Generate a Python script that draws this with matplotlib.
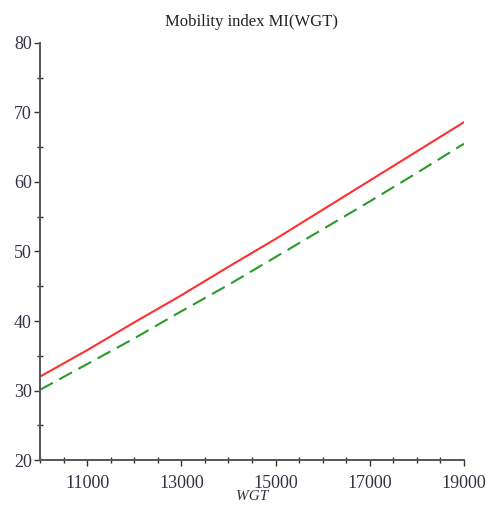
import matplotlib
matplotlib.use("Agg")
import matplotlib.pyplot as plt
from matplotlib.ticker import MultipleLocator, FixedLocator

# values
wgt = [10000, 11000, 12000, 13000, 14000, 15000, 16000, 17000, 18000, 19000]
mi_red = [32.0, 35.8, 39.8, 43.7, 47.8, 51.8, 56.0, 60.2, 64.4, 68.6]
mi_green = [30.1, 33.8, 37.5, 41.4, 45.2, 49.2, 53.2, 57.2, 61.3, 65.5]
xticks_lab = [11000, 13000, 15000, 17000, 19000]
yticks_lab = [20, 30, 40, 50, 60, 70, 80]

plt.rcParams["font.family"] = ["Liberation Serif", "DejaVu Serif"]

fig = plt.figure(figsize=(4.9, 5.05), dpi=100)
ax = fig.add_axes([0.0816, 0.089, 0.8653, 0.826])

ax.plot(wgt, mi_red, color="#ff3030", lw=1.5)
ax.plot(wgt, mi_green, color="#2a9a2a", lw=1.5, dashes=(7, 3.5))

ax.set_xlim(10000, 19000)
ax.set_ylim(20, 80)
ax.xaxis.set_major_locator(FixedLocator(xticks_lab))
ax.xaxis.set_minor_locator(MultipleLocator(500))
ax.yaxis.set_major_locator(FixedLocator(yticks_lab))
ax.yaxis.set_minor_locator(MultipleLocator(5))

for s in ["top", "right"]:
    ax.spines[s].set_visible(False)
for s in ["left", "bottom"]:
    ax.spines[s].set_color("#555555")
    ax.spines[s].set_linewidth(1.4)

ax.tick_params(which="major", direction="out", length=4, width=1, color="#333333",
               labelsize=13, labelcolor="#333344", pad=2)
ax.tick_params(axis="x", which="major", pad=6.5)
ax.tick_params(which="minor", direction="inout", length=4, width=1, color="#333333")

ax.set_title("Mobility index MI(WGT)", fontsize=12, color="#222222", pad=12)
ax.set_xlabel("WGT", fontsize=11, style="italic", color="#333344", labelpad=-1)

fig.savefig("out.png", dpi=100)
